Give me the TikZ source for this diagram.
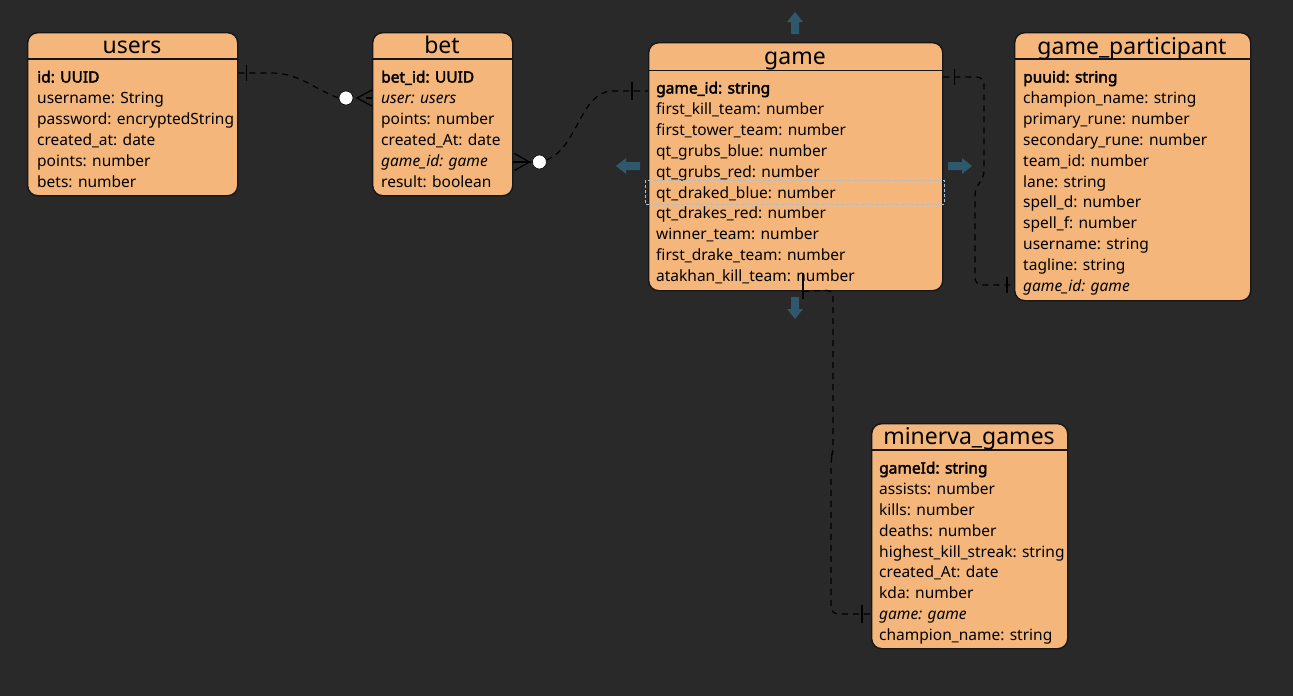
\documentclass[tikz,border=0pt]{standalone}
\usepackage{fontspec}
\setmainfont{Noto Sans}[AutoFakeBold=2.6]
\usetikzlibrary{calc}
\definecolor{bg}{RGB}{41,41,41}
\definecolor{boxfill}{RGB}{244,182,122}
\definecolor{boxline}{RGB}{22,22,22}
\definecolor{arrowc}{RGB}{47,88,108}
\definecolor{selc}{RGB}{170,192,214}
\begin{document}
\begin{tikzpicture}[x=1pt,y=-1pt,
  box/.style={draw=boxline, fill=boxfill, line width=1.4pt, rounded corners=10pt, anchor=north west, inner sep=0pt},
  hdr/.style={draw=boxline, line width=1.4pt},
  title/.style={font=\fontsize{23}{26}\selectfont, text=black, inner sep=0pt, anchor=base},
  row/.style={font=\fontsize{15.5}{18}\selectfont, text=black, inner sep=0pt, anchor=base west},
  conn/.style={draw=black, line width=1.2pt, dash pattern=on 6pt off 5pt},
  endbar/.style={draw=black, line width=1.2pt},
  zerocirc/.style={fill=white, draw=black, line width=0.6pt},
  blockarrow/.style={fill=arrowc}
]
\fill[bg] (0,0) rectangle (1293,696);
\useasboundingbox (0,0) rectangle (1293,696);

% ---------- boxes ----------
\node[box, minimum width=210pt, minimum height=163pt] (users) at (27,32) {};
\node[box, minimum width=140pt, minimum height=163pt] (bet) at (372,32) {};
\node[box, minimum width=294pt, minimum height=248pt] (game) at (648,42) {};
\node[box, minimum width=236pt, minimum height=268pt] (gp) at (1014,32) {};
\node[box, minimum width=196pt, minimum height=225pt] (minerva) at (871,423) {};

% header separators
\draw[hdr] ($(users.north west)+(0,27)$) -- ($(users.north east)+(0,27)$);
\draw[hdr] ($(bet.north west)+(0,27)$) -- ($(bet.north east)+(0,27)$);
\draw[hdr] ($(game.north west)+(0,28.5)$) -- ($(game.north east)+(0,28.5)$);
\draw[hdr] ($(gp.north west)+(0,27)$) -- ($(gp.north east)+(0,27)$);
\draw[hdr] ($(minerva.north west)+(0,27)$) -- ($(minerva.north east)+(0,27)$);

% titles
\node[title] (tusers) at (132,53.5) {users};
\node[title] (tbet) at (442,53.5) {bet};
\node[title] (tgame) at (795,64) {game};
\node[title] (tgp) at (1132,54) {game\_participant};
\node[title] (tminerva) at (969,444) {minerva\_games};

% rows
\foreach \t [count=\i] in {{\textbf{id: UUID}},{username: String},{password: encryptedString},{created\_at: date},{points: number},{bets: number}}
  \node[row] (u\i) at (37,{82.5+(\i-1)*20.9}) {\t};
\foreach \t [count=\i] in {{\textbf{bet\_id: UUID}},{\textit{user: users}},{points: number},{created\_At: date},{\textit{game\_id: game}},{result: boolean}}
  \node[row] (b\i) at (381,{82.5+(\i-1)*20.9}) {\t};
\foreach \t [count=\i] in {{\textbf{game\_id: string}},{first\_kill\_team: number},{first\_tower\_team: number},{qt\_grubs\_blue: number},{qt\_grubs\_red: number},{qt\_draked\_blue: number},{qt\_drakes\_red: number},{winner\_team: number},{first\_drake\_team: number},{atakhan\_kill\_team: number}}
  \node[row] (g\i) at (656,{93.5+(\i-1)*20.9}) {\t};
\foreach \t [count=\i] in {{\textbf{puuid: string}},{champion\_name: string},{primary\_rune: number},{secondary\_rune: number},{team\_id: number},{lane: string},{spell\_d: number},{spell\_f: number},{username: string},{tagline: string},{\textit{game\_id: game}}}
  \node[row] (p\i) at (1023,{82.5+(\i-1)*20.9}) {\t};
\foreach \t [count=\i] in {{\textbf{gameId: string}},{assists: number},{kills: number},{deaths: number},{highest\_kill\_streak: string},{created\_At: date},{kda: number},{\textit{game: game}},{champion\_name: string}}
  \node[row] (m\i) at (879,{473.5+(\i-1)*20.875}) {\t};

% selection outline
\draw[selc, line width=0.7pt, dash pattern=on 3pt off 2pt] (645,180) rectangle (944,204);

% ---------- connection points ----------
\coordinate (usersR) at ($(users.north east)+(0,41)$);
\coordinate (betL) at ($(bet.north west)+(0,66)$);
\coordinate (betR) at ($(bet.north east)+(0,130)$);
\coordinate (gameL) at ($(game.north west)+(0,49)$);
\coordinate (gameR) at ($(game.north east)+(0,35)$);
\coordinate (gameB) at ($(game.south west)+(155,0)$);
\coordinate (gpL) at ($(gp.north west)+(0,253)$);
\coordinate (minL) at ($(minerva.north west)+(0,191)$);

% users -- bet
\draw[conn] (usersR) -- ++(33,0) .. controls (300,73) and (315,90) .. (339,98);
\draw[endbar] ($(usersR)+(8,-8)$) -- ($(usersR)+(8,8)$);
\draw[endbar] ($(betL)+(0,-8)$) -- ($(betL)+(-15,0)$) -- ($(betL)+(0,8)$);
\draw[endbar] ($(betL)+(-6,0)$) -- (betL);
\filldraw[zerocirc] ($(betL)+(-26,0)$) circle (7);

% bet -- game
\draw[endbar] ($(betR)+(1,-8.5)$) -- ($(betR)+(16,0)$) -- ($(betR)+(1,8.5)$);
\draw[endbar] (betR) -- ++(18,0);
\filldraw[zerocirc] ($(betR)+(26,0)$) circle (7);
\draw[conn] ($(betR)+(33,-2)$) .. controls (578,148) and (580,92) .. (612,91) -- (gameL);
\draw[endbar] ($(gameL)+(-16,-9)$) -- ($(gameL)+(-16,9)$);

% game -- game_participant
\draw[conn, rounded corners=7pt] (gameR) -- (984,77) -- (984,178) -- (975,188) -- (975,285) -- (gpL);
\draw[endbar] ($(gameR)+(11,-8)$) -- ($(gameR)+(11,8)$);
\draw[endbar] ($(gpL)+(-7,-8)$) -- ($(gpL)+(-7,8)$);

% game -- minerva_games
\draw[endbar] ($(gameB)+(0,-18)$) -- ($(gameB)+(0,8)$);
\draw[conn, rounded corners=7pt] (gameB) -- (833,290) -- (833,452) -- (831,458) -- (831,614) -- (minL);
\draw[endbar] ($(minL)+(-9,-9)$) -- ($(minL)+(-9,9)$);

% ---------- block arrows ----------
\fill[blockarrow] (795,12) -- (803,22) -- (799,22) -- (799,34) -- (791,34) -- (791,22) -- (787,22) -- cycle;
\fill[blockarrow] (795,319) -- (803,309) -- (799,309) -- (799,297) -- (791,297) -- (791,309) -- (787,309) -- cycle;
\fill[blockarrow] (616,166) -- (626,158) -- (626,162) -- (640,162) -- (640,170) -- (626,170) -- (626,174) -- cycle;
\fill[blockarrow] (972,166) -- (962,158) -- (962,162) -- (948,162) -- (948,170) -- (962,170) -- (962,174) -- cycle;
\end{tikzpicture}
\end{document}
